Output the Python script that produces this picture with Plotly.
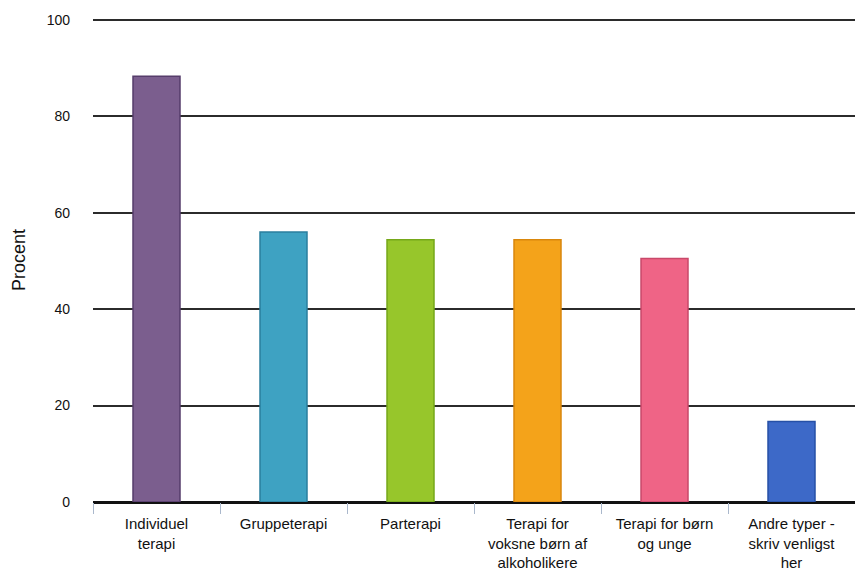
import plotly.graph_objects as go

categories = [
    "Individuel<br>terapi",
    "Gruppeterapi",
    "Parterapi",
    "Terapi for<br>voksne børn af<br>alkoholikere",
    "Terapi for børn<br>og unge",
    "Andre typer -<br>skriv venligst<br>her",
]
values = [88.3, 56.0, 54.4, 54.4, 50.5, 16.7]
fill_colors = ["#7B5E8E", "#3EA2C2", "#97C62B", "#F4A31A", "#EF6486", "#3D69C8"]
line_colors = ["#563D6B", "#2A7F9E", "#76A81A", "#D9870C", "#C9486A", "#2650A6"]
y_ticks = [0, 20, 40, 60, 80, 100]

fig = go.Figure(
    go.Bar(
        x=categories,
        y=values,
        marker=dict(color=fill_colors, line=dict(color=line_colors, width=1.5)),
        width=0.37,
    )
)

fig.update_layout(
    width=855,
    height=572,
    margin=dict(l=93, r=0, t=18, b=70),
    plot_bgcolor="white",
    paper_bgcolor="white",
    showlegend=False,
    font=dict(family="Liberation Sans, Arial, sans-serif", color="#111111"),
)

fig.update_yaxes(
    range=[0, 100.4],
    tickvals=y_ticks,
    tickprefix="<b>",
    ticksuffix="</b>",
    showgrid=True,
    gridcolor="#2b2b2b",
    gridwidth=1.6,
    zeroline=True,
    zerolinecolor="#111111",
    zerolinewidth=2.5,
    tickfont=dict(size=14, color="#111111"),
    ticklabelstandoff=22,
    title=dict(text="Procent", font=dict(size=18, color="#111111"), standoff=16),
)

fig.update_xaxes(
    showgrid=False,
    ticks="outside",
    tickson="boundaries",
    ticklen=11,
    tickcolor="#AAB8CC",
    tickwidth=1,
    ticklabelstandoff=11,
    tickfont=dict(size=15, color="#111111"),
    showline=False,
)

fig.write_html("out.html")
